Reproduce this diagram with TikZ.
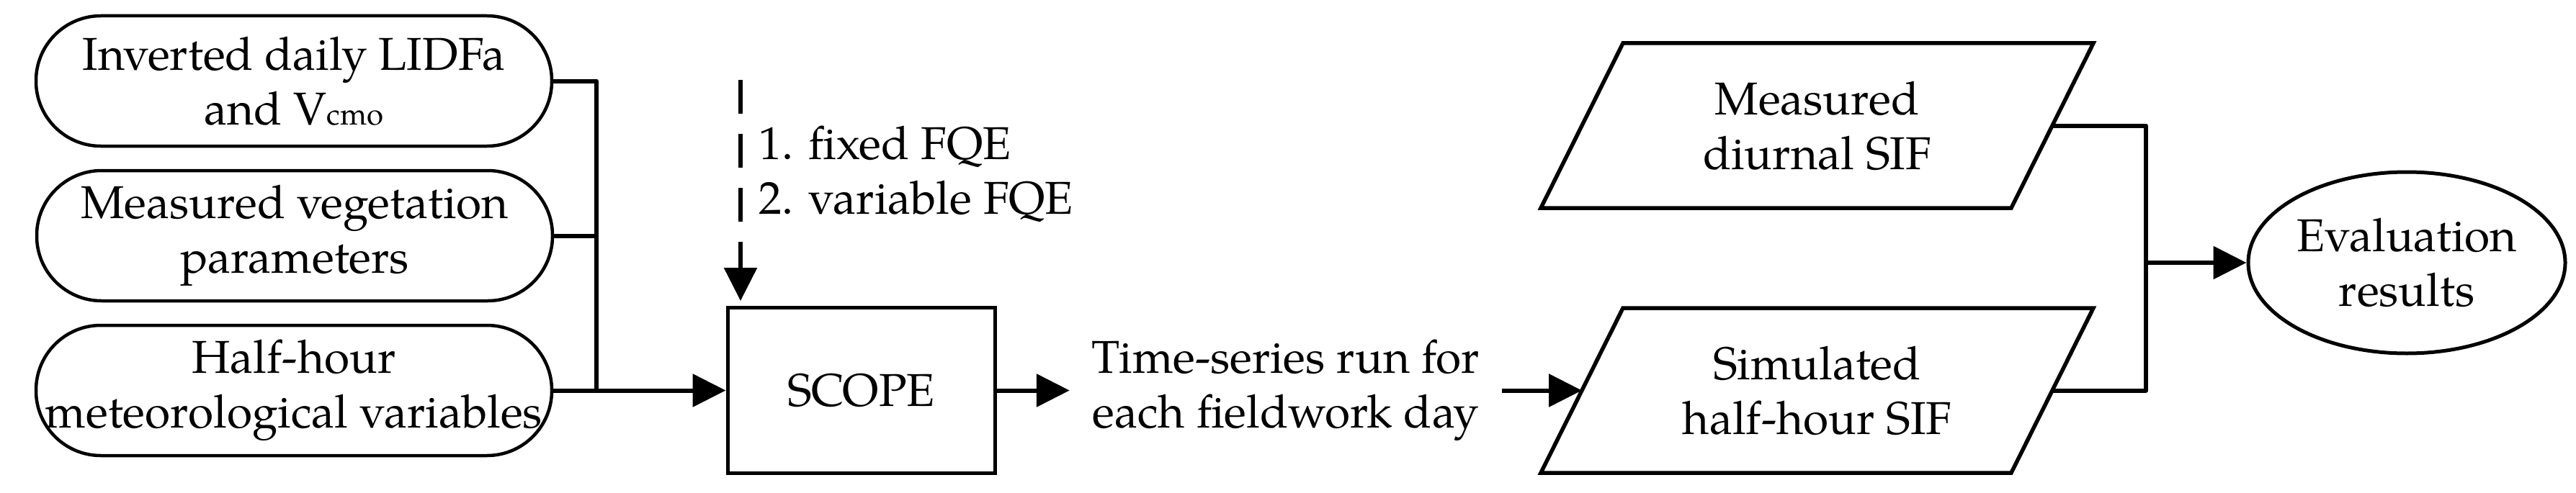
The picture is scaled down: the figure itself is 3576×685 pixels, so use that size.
\documentclass[tikz,border=0pt]{standalone}
\usepackage{fontspec}
\setmainfont{texgyrepagella-regular.otf}
\usetikzlibrary{shapes.geometric,arrows.meta}
\begin{document}
\begin{tikzpicture}[x=1pt,y=-1pt,
  every node/.style={font=\fontsize{64}{76}\selectfont, align=center, inner sep=0pt},
  stadium/.style={draw, line width=4.5pt, rounded corners=90pt, minimum width=716pt, minimum height=181pt},
  procbox/.style={draw, line width=5pt, minimum width=371pt, minimum height=230pt},
  databox/.style={minimum width=653pt, minimum height=229pt, outer sep=0pt},
  shapeline/.style={line width=5.5pt, line join=miter},
  evalshape/.style={draw, ellipse, line width=5pt, minimum width=440pt, minimum height=252pt},
  conn/.style={line width=6pt, line join=round},
  arr/.style={conn, -{Triangle[length=46pt,width=45pt]}},
]
\useasboundingbox (0,0) rectangle (3576,685);

% input nodes
\node[stadium] (s1) at (408,112.5) {Inverted daily LIDFa\\and V{\fontsize{42}{42}\selectfont cmo}};
\node[stadium] (s2) at (409,327.5) {Measured vegetation\\parameters};
\node[stadium] (s3) at (408,542.5) {Half-hour\\meteorological variables};

% model
\node[procbox] (scope) at (1195.5,542.5) {SCOPE};
\node[anchor=base west] (f1) at (1053,221) {1. fixed FQE};
\node[anchor=base west] (f2) at (1053,297) {2. variable FQE};
\coordinate (dtop) at (1028,111);

\node[inner xsep=31pt] (ts) at (1785,542.5) {Time-series run for\\each fieldwork day};

% SIF data
\node[databox] (p1) at (2522.5,174.5) {Measured\\diurnal SIF};
\node[databox] (p2) at (2522.5,542.5) {Simulated\\half-hour SIF};
\draw[shapeline] ([xshift=57pt]p1.north west) -- ([xshift=57pt]p1.north east) -- ([xshift=-57pt]p1.south east) -- ([xshift=-57pt]p1.south west) -- cycle;
\draw[shapeline] ([xshift=57pt]p2.north west) -- ([xshift=57pt]p2.north east) -- ([xshift=-57pt]p2.south east) -- ([xshift=-57pt]p2.south west) -- cycle;

\node[evalshape] (ev) at (3341,365) {Evaluation\\results};

\coordinate (busL) at (828,542.5);
\coordinate (busR) at (2979,365);

% connectors
\draw[conn] (s1.east) -| (busL);
\draw[conn] (s2.east) -- (s2.east -| busL);
\draw[arr] (s3.east) -- (scope.west);
\draw[arr, dash pattern=on 47pt off 28pt] (dtop) -- ([yshift=7pt]dtop |- scope.north);
\draw[arr] (scope.east) -- (ts.west);
\draw[arr] (ts.east) -- (p2.west);
\draw[conn] (p1.east) -| (busR);
\draw[conn] (p2.east) -| (busR);
\draw[arr] (busR) -- (ev.west);
\end{tikzpicture}
\end{document}
